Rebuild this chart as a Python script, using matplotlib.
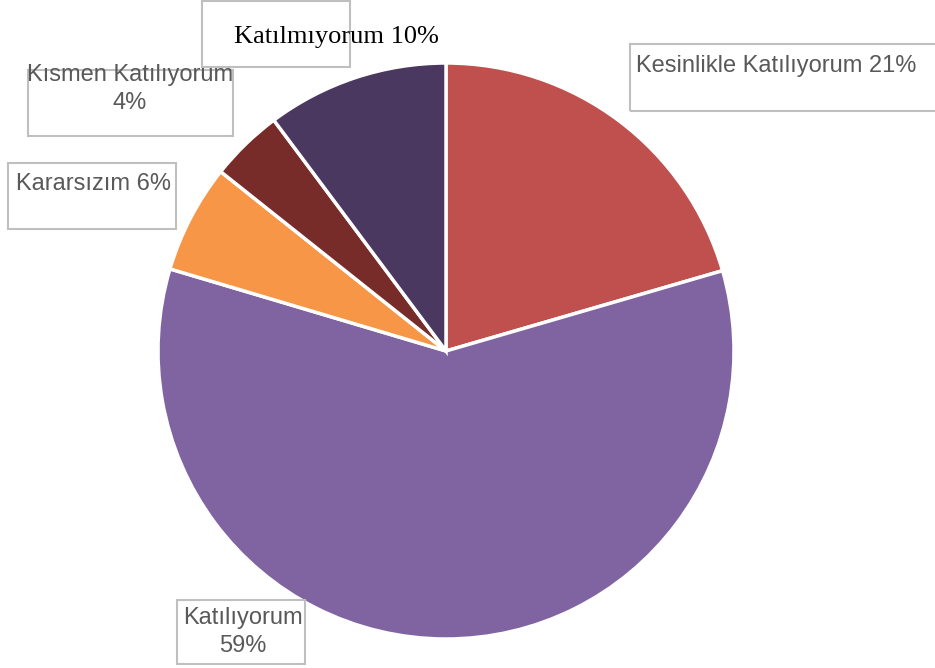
import matplotlib.pyplot as plt
from matplotlib.patches import Rectangle

labels = ['Kesinlikle Katılıyorum', 'Katılıyorum', 'Kararsızım', 'Kısmen Katılıyorum', 'Katılmıyorum']
values = [20.5, 59.1, 6.1, 4.1, 10.2]   # slice sizes
pcts = [21, 59, 6, 4, 10]               # percentages printed in the labels
colors = ['#C0504D', '#8064A2', '#F79646', '#772C2A', '#4B3861']

H = 668
fig = plt.figure(figsize=(9.35, 6.68), dpi=100)
ax = fig.add_axes([0, 0, 1, 1])
ax.pie(values, colors=colors, startangle=90, counterclock=False,
       center=(446, H - 351), radius=288, frame=True,
       wedgeprops=dict(edgecolor='white', linewidth=2.5))
ax.set_xlim(0, 935)
ax.set_ylim(0, H)
ax.set_aspect('equal')
ax.axis('off')

# label boxes (x, y_top, w, h in pixels)
boxes = [(630, 44, 320, 67), (177, 600, 128, 64), (8, 163, 168, 66),
         (28, 70, 205, 66), (202, 1, 148, 66)]
for (x, y, w, h) in boxes:
    ax.add_patch(Rectangle((x, H - y - h), w, h, fill=False,
                           edgecolor='#BFBFBF', linewidth=1.5))

gray = '#595959'
sans = 'Liberation Sans'
ax.text(636, H - 66, f'{labels[0]} {pcts[0]}%', color=gray, fontsize=17,
        family=sans, ha='left', va='center')
ax.text(243, H - 632, f'{labels[1]}\n{pcts[1]}%', color=gray, fontsize=17,
        family=sans, ha='center', va='center', linespacing=1.35)
ax.text(16, H - 184, f'{labels[2]} {pcts[2]}%', color=gray, fontsize=17,
        family=sans, ha='left', va='center')
ax.text(130, H - 89, f'{labels[3]}\n{pcts[3]}%', color=gray, fontsize=17,
        family=sans, ha='center', va='center', linespacing=1.3)
ax.text(234, H - 37, f'{labels[4]} {pcts[4]}%', color='black', fontsize=19,
        family='Liberation Serif', ha='left', va='center')

fig.savefig('out.png', dpi=100)
